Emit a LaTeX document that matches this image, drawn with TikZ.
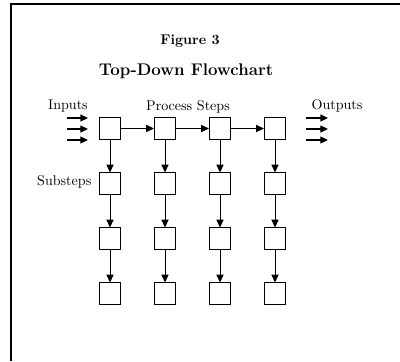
\documentclass[tikz,border=0pt]{standalone}
\usetikzlibrary{arrows.meta}
\tikzset{
  stepbox/.style={draw, line width=0.6pt, minimum size=0.53cm, inner sep=0pt},
  flow/.style={-{Triangle[length=5.5pt,width=5pt]}, line width=0.6pt},
  iobar/.style={-{Triangle[length=5.5pt,width=5pt]}, line width=0.9pt},
}
\begin{document}
\begin{tikzpicture}[x=0.025cm,y=-0.025cm]
  \useasboundingbox (0,0) rectangle (400,361);
  % frame, left and top only
  \draw[line width=1.5pt] (11,361) -- (11,4) -- (400,4);
  \node[font=\bfseries] (fig) at (190,41) {Figure 3};
  \node[font=\large\bfseries] (title) at (186,71) {Top-Down Flowchart};
  \node (inputs) at (68,106) {Inputs};
  \node (process) at (188,107) {Process Steps};
  \node (outputs) at (337,106) {Outputs};
  \node[left, inner sep=1pt] (substeps) at (93,182) {Substeps};
  % grid of steps: column \c, row \r
  \foreach \c in {1,...,4}
    \foreach \r in {1,...,4}
      \node[stepbox] (b\c\r) at ({55+55*\c},{73.5+55*\r}) {};
  \foreach \c/\d in {1/2,2/3,3/4}
    \draw[flow] (b\c1) -- (b\d1);
  \foreach \c in {1,...,4}
    \foreach \r/\s in {1/2,2/3,3/4}
      \draw[flow] (b\c\r) -- (b\c\s);
  % input and output arrows
  \foreach \y [count=\i] in {118,129,140} {
    \coordinate (ina\i) at (67,\y);
    \coordinate (inb\i) at (88,\y);
    \coordinate (outa\i) at (306,\y);
    \coordinate (outb\i) at (328,\y);
    \draw[iobar] (ina\i) -- (inb\i);
    \draw[iobar] (outa\i) -- (outb\i);
  }
\end{tikzpicture}
\end{document}
